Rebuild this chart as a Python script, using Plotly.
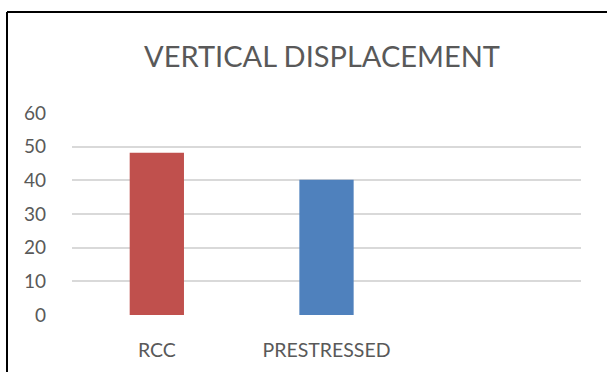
import plotly.graph_objects as go

categories = ["RCC", "PRESTRESSED"]
values = [48.2, 40.2]
bar_colors = ["#C0504D", "#4F81BD"]
y_ticks = [0, 10, 20, 30, 40, 50, 60]

W, H = 607, 372
L, R, T, B = 72, 26, 113, 57
pw, ph = W - L - R, H - T - B

fig = go.Figure()
fig.add_trace(go.Bar(x=categories, y=values, marker=dict(color=bar_colors, line=dict(width=0)),
                     width=0.32, showlegend=False))

font_family = "Lato, 'Open Sans', sans-serif"
fig.update_layout(
    width=W, height=H,
    margin=dict(l=L, r=R, t=T, b=B),
    paper_bgcolor="white", plot_bgcolor="white",
    title=dict(text="VERTICAL DISPLACEMENT", x=(322 - L) / pw, xref="paper", xanchor="center",
               y=1 - 57 / H, yref="container", yanchor="middle",
               font=dict(family=font_family, size=29, color="#595959")),
    font=dict(family=font_family, color="#595959"),
    xaxis=dict(type="category", range=[-0.5, 2.5], showgrid=False, showline=False, zeroline=False,
               ticks="", tickfont=dict(size=19.5, color="#595959"), ticklabelstandoff=21),
    yaxis=dict(range=[0, 60], tickvals=y_ticks, showgrid=True, gridcolor="#D9D9D9", gridwidth=1.5,
               zeroline=False, showline=False, ticks="", tickfont=dict(size=19, color="#595959"),
               ticklabelstandoff=25),
    shapes=[
        dict(type="line", xref="paper", yref="paper", x0=(7 - L) / pw, x1=(W - L) / pw,
             y0=(H - B - 12) / ph, y1=(H - B - 12) / ph, line=dict(color="black", width=2)),
        dict(type="line", xref="paper", yref="paper", x0=(7 - L) / pw, x1=(7 - L) / pw,
             y0=(H - B - 12) / ph, y1=(H - B - H) / ph, line=dict(color="black", width=2)),
    ],
)

fig.write_html("out.html")
